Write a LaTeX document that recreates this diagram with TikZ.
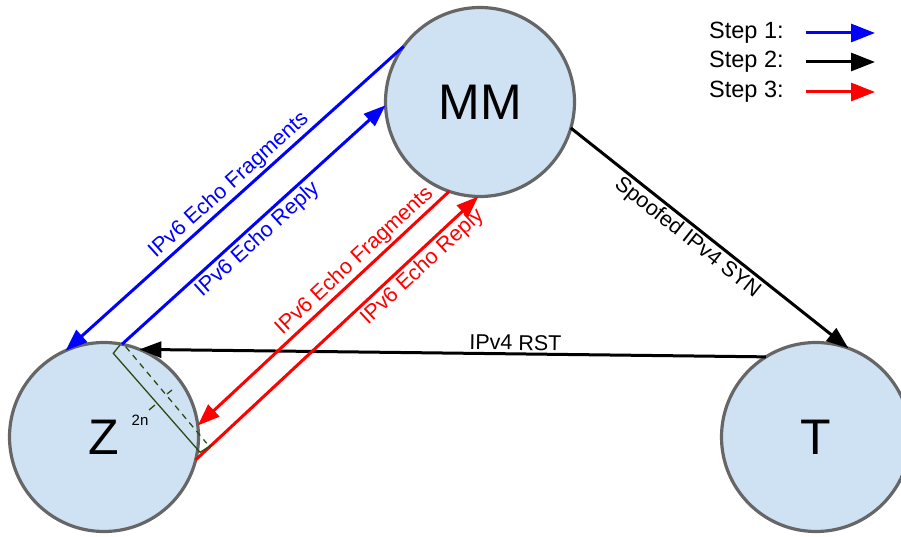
\documentclass[tikz,border=0pt]{standalone}
\usepackage{fontspec}
\setmainfont{Liberation Sans}
\usetikzlibrary{arrows.meta,positioning}
\definecolor{hostfill}{HTML}{CFE2F3}
\definecolor{hostdraw}{HTML}{666666}
\definecolor{sblue}{HTML}{0000FF}
\definecolor{sred}{HTML}{FF0000}
\definecolor{brk}{HTML}{274E13}
\tikzset{
  host/.style={circle,draw=hostdraw,fill=hostfill,line width=3.2pt,minimum size=189pt,
    inner sep=0pt,outer sep=0pt,font=\fontsize{50}{60}\selectfont},
  msg/.style={-{Triangle[length=22pt,width=16pt]},line width=3pt},
  m1/.style={msg,color=sblue},
  m2/.style={msg,color=black},
  m3/.style={msg,color=sred},
  lbl/.style={font=\fontsize{21.5}{24}\selectfont,inner sep=2pt,sloped},
  key/.style={font=\fontsize{23.5}{26}\selectfont,anchor=west,inner sep=0pt},
  keyarr/.style={-{Triangle[length=24pt,width=18pt]},line width=3pt},
  brace/.style={draw=brk,line width=1.3pt}
}
\begin{document}
\begin{tikzpicture}[x=1pt,y=-1pt]
  \useasboundingbox (0,0) rectangle (901,537);
  % hosts
  \node[host] (MM) at (480,102) {MM};
  \node[host] (Z)  at (104,437) {Z};
  \node[host] (T)  at (816,437) {T};
  % step 1: echo exchange with MM
  \draw[m1] (MM.144) -- node[lbl,above,pos=0.49]{IPv6 Echo Fragments} (Z.114);
  \draw[m1] (Z.79) -- node[lbl,below,pos=0.48]{IPv6 Echo Reply} (MM.182);
  % step 2: spoofed SYN and reset
  \draw[m2] (MM.-16) -- node[lbl,below,pos=0.45]{Spoofed IPv4 SYN} (T.70);
  \draw[m2] (T.122) -- node[lbl,above,pos=0.4]{IPv4 RST} (Z.68);
  % step 3: echo exchange again
  \draw[m3] (MM.251) -- node[lbl,above,pos=0.34]{IPv6 Echo Fragments} (Z.7);
  \draw[m3] (Z.-14) -- node[lbl,below,pos=0.77]{IPv6 Echo Reply} (MM.269);
  % 2n bracket on Z
  \draw[brace] (120,345) -- (113.3,353.3) -- (200,452.3) -- (211.7,445);
  \draw[brace] (155,405) -- (149,410);
  \draw[brace,dashed,dash pattern=on 6pt off 5pt] (125.7,346.7) -- (206.7,443.3);
  \draw[brace] (172,390) -- (167,394);
  \node[font=\fontsize{15}{17}\selectfont] (len) at (140,420) {2n};
  % legend
  \foreach \i/\c/\y in {1/sblue/33,2/black/62,3/sred/92}{
    \node[key] (k\i) at (709,\y) {Step \i:};
    \coordinate (ka\i) at (806,\y);
    \coordinate (kb\i) at (875,\y);
    \draw[keyarr,color=\c] (ka\i) -- (kb\i);
  }
\end{tikzpicture}
\end{document}
